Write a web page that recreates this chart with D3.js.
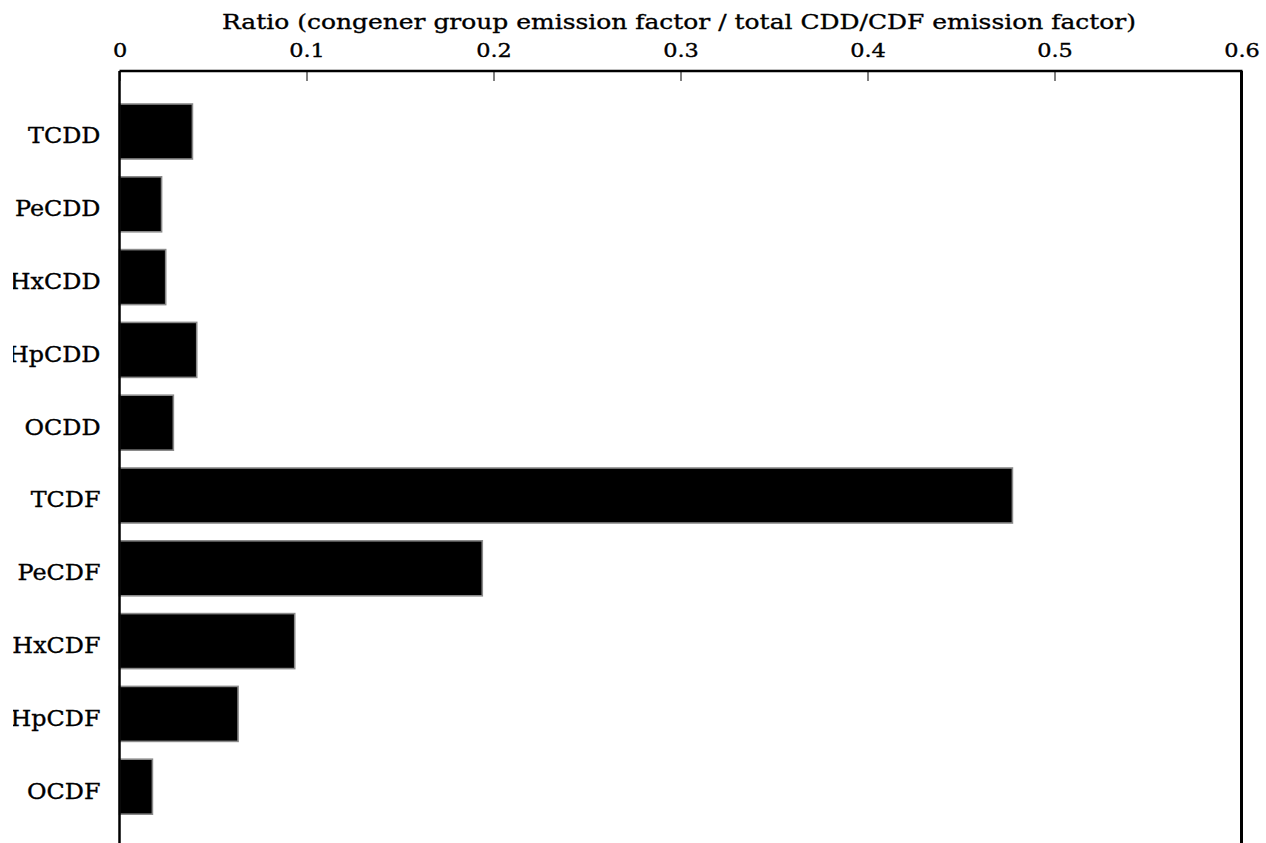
<!DOCTYPE html>
<html>
<head>
<meta charset="utf-8">
<script src="https://cdn.jsdelivr.net/npm/d3@7"></script>
<style>
  html, body { margin: 0; padding: 0; background: #fff; }
  svg { display: block; }
  text { font-family: "DejaVu Serif", serif; fill: #000; stroke: #000; stroke-width: 0.35px; }
</style>
</head>
<body>
<svg id="chart" width="1266" height="843"></svg>
<script>
// Congener groups and their share of the total CDD/CDF emission factor
const groups = ["TCDD", "PeCDD", "HxCDD", "HpCDD", "OCDD", "TCDF", "PeCDF", "HxCDF", "HpCDF", "OCDF"];
const ratios = [0.039, 0.0225, 0.0247, 0.0413, 0.0288, 0.4775, 0.194, 0.0937, 0.0634, 0.0176];
const xTicks = [0, 0.1, 0.2, 0.3, 0.4, 0.5, 0.6];
const xTickLabels = ["0", "0.1", "0.2", "0.3", "0.4", "0.5", "0.6"];
const axisTitle = "Ratio (congener group emission factor / total CDD/CDF emission factor)";

const svg = d3.select("#chart");
const plotLeft = 119.5, plotRight = 1241.5, plotTop = 71, plotBottom = 900;

// Widen glyphs horizontally for a broad-faced serif look
function widen(sel, factor) {
  sel.each(function () {
    const len = this.getComputedTextLength();
    d3.select(this).attr("textLength", len * factor).attr("lengthAdjust", "spacingAndGlyphs");
  });
}

const x = d3.scaleLinear().domain([0, 0.6]).range([plotLeft, plotRight]);
const y = d3.scaleBand().domain(groups).range([95.1, 823.1]).paddingInner(0.2445).paddingOuter(0.12225);

// Bars
svg.append("g").selectAll("rect").data(groups).join("rect")
  .attr("x", x(0))
  .attr("y", d => y(d))
  .attr("width", (d, i) => x(ratios[i]) - x(0))
  .attr("height", y.bandwidth())
  .attr("fill", "#000")
  .attr("stroke", "#8a8a8a")
  .attr("stroke-width", 1.6);

// Top axis with inward ticks
const xAxis = d3.axisTop(x).tickValues(xTicks).tickSize(-10)
  .tickFormat((d, i) => xTickLabels[i]);
const gx = svg.append("g").attr("transform", `translate(0,${plotTop})`).call(xAxis);
gx.select(".domain").remove();
gx.selectAll(".tick line").attr("stroke", "#000").attr("stroke-width", 1);
gx.selectAll(".tick text")
  .attr("y", -14)
  .attr("dy", null)
  .attr("font-size", 19)
  .attr("font-family", "DejaVu Serif")
  .call(widen, 1.18);

// Frame lines
svg.append("line").attr("x1", plotLeft).attr("x2", plotRight + 1).attr("y1", plotTop).attr("y2", plotTop)
  .attr("stroke", "#000").attr("stroke-width", 2.5);
svg.append("line").attr("x1", plotLeft).attr("x2", plotLeft).attr("y1", plotTop).attr("y2", plotBottom)
  .attr("stroke", "#000").attr("stroke-width", 2.5);
svg.append("line").attr("x1", plotRight).attr("x2", plotRight).attr("y1", plotTop).attr("y2", plotBottom)
  .attr("stroke", "#000").attr("stroke-width", 3);

// Axis title
svg.append("text")
  .attr("x", 679)
  .attr("y", 29)
  .attr("text-anchor", "middle")
  .attr("font-size", 20.5)
  .attr("textLength", 914)
  .attr("lengthAdjust", "spacingAndGlyphs")
  .text(axisTitle);

// Category labels (clipped on the left edge)
svg.append("clipPath").attr("id", "labelClip")
  .append("rect").attr("x", 13).attr("y", 0).attr("width", 100).attr("height", 843);
const yAxis = d3.axisLeft(y).tickSize(0).tickPadding(19);
const gy = svg.append("g")
  .attr("clip-path", "url(#labelClip)")
  .call(yAxis);
gy.selectAll(".tick").attr("transform", d => `translate(${plotLeft},${y(d) + y.bandwidth() / 2})`);
gy.select(".domain").remove();
gy.selectAll(".tick text")
  .attr("font-size", 22.5)
  .attr("font-family", "DejaVu Serif")
  .attr("dy", 11.8)
  .call(widen, 1.06);
</script>
</body>
</html>
